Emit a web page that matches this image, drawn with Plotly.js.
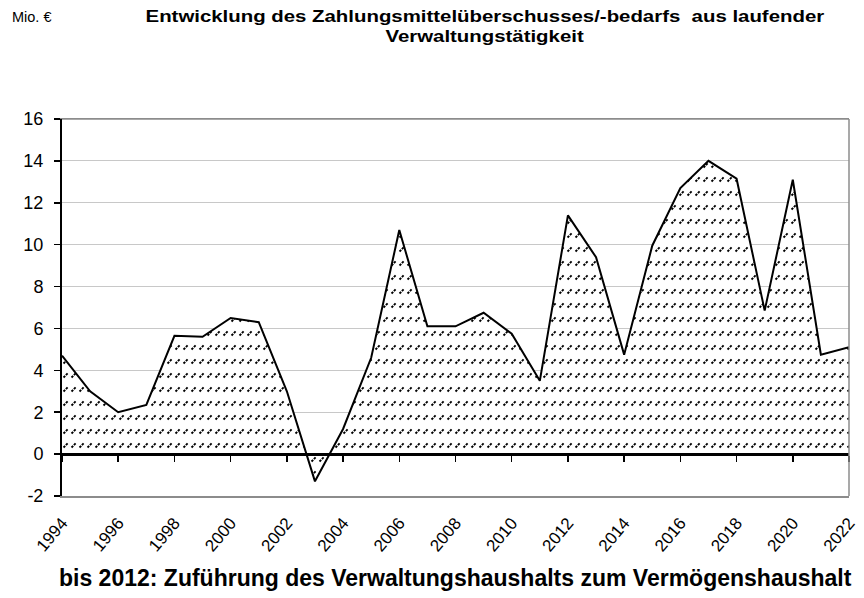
<!DOCTYPE html>
<html><head><meta charset="utf-8">
<script src="https://cdn.plot.ly/plotly-3.0.1.min.js"></script>
<style>html,body{margin:0;padding:0;background:#fff}#chart{width:864px;height:598px}</style>
</head><body><div id="chart"></div>
<script>
const years = [1994,1995,1996,1997,1998,1999,2000,2001,2002,2003,2004,2005,2006,2007,2008,2009,2010,2011,2012,2013,2014,2015,2016,2017,2018,2019,2020,2021,2022];
const values = [4.7,3.0,2.0,2.35,5.65,5.6,6.5,6.3,3.0,-1.3,1.2,4.6,10.7,6.1,6.1,6.75,5.75,3.5,11.4,9.4,4.75,9.95,12.7,14.0,13.15,6.85,13.1,4.75,5.1];
const xTicks = [1994,1996,1998,2000,2002,2004,2006,2008,2010,2012,2014,2016,2018,2020,2022];
const yTicks = [-2,0,2,4,6,8,10,12,14,16];
const titleLine1 = "<b>Entwicklung des Zahlungsmittelüberschusses/-bedarfs  aus laufender</b>";
const titleLine2 = "<b>Verwaltungstätigkeit</b>";
const unitText = "Mio. €";
const footText = "<b>bis 2012: Zuführung des Verwaltungshaushalts zum Vermögenshaushalt</b>";

const font = "Liberation Sans, Arial, sans-serif";
const trace = {
  x: years, y: values, type: 'scatter', mode: 'lines',
  line: {color: '#000', width: 2},
  fill: 'tozeroy', fillcolor: 'white',
  fillpattern: {shape: '/', bgcolor: 'white', fgcolor: '#222', size: 8, solidity: 0.2},
  hoverinfo: 'skip', showlegend: false
};
const layout = {
  width: 864, height: 598,
  margin: {l: 62, r: 15, t: 119, b: 102},
  paper_bgcolor: '#fff', plot_bgcolor: '#fff',
  font: {family: font, color: '#000', size: 15},
  xaxis: {
    range: [1994, 2022], tickvals: xTicks, ticktext: xTicks.map(String),
    tickangle: -50, showgrid: false, zeroline: false,
    showline: true, linecolor: '#8c8c8c', linewidth: 1.5, mirror: true,
    ticks: '', ticklabelstandoff: 9, tickfont: {size: 17, family: font}
  },
  xaxis2: {
    overlaying: 'x', anchor: 'free', position: 2/18, range: [1994, 2022],
    tickvals: xTicks, showticklabels: false, ticks: 'outside', ticklen: 6, tickwidth: 1.5,
    tickcolor: '#000', showline: true, linecolor: '#000', linewidth: 2.5, showgrid: false, zeroline: false
  },
  yaxis: {
    range: [-2, 16], tickvals: yTicks, ticktext: yTicks.map(String),
    showgrid: true, gridcolor: '#c8c8c8', gridwidth: 1,
    zeroline: false, showline: true, linecolor: '#000', linewidth: 2,
    ticks: 'outside', ticklen: 6, tickcolor: '#000', tickwidth: 1.5,
    ticklabelstandoff: 7, tickfont: {size: 18, family: font}
  },
  shapes: [
    {type: 'line', xref: 'paper', yref: 'paper', x0: 0, x1: 1, y0: 1, y1: 1, line: {color: '#8c8c8c', width: 1.5}},
    {type: 'line', xref: 'paper', yref: 'paper', x0: 1, x1: 1, y0: 0, y1: 1, line: {color: '#8c8c8c', width: 1.5}}
  ],
  annotations: [
    {text: titleLine1, xref: 'paper', yref: 'paper', x: 0.537, y: 1, yshift: 119 - 16, xanchor: 'center', yanchor: 'middle',
     showarrow: false, font: {size: 17, family: font}},
    {text: titleLine2, xref: 'paper', yref: 'paper', x: 0.537, y: 1, yshift: 119 - 36, xanchor: 'center', yanchor: 'middle',
     showarrow: false, font: {size: 17, family: font}},
    {text: unitText, xref: 'paper', yref: 'paper', x: -0.066, y: 1, yshift: 119 - 17, xanchor: 'left', yanchor: 'middle',
     showarrow: false, font: {size: 14.5, family: font}},
    {text: footText, xref: 'paper', yref: 'paper', x: 0.5, y: 0, yshift: -82, xanchor: 'center', yanchor: 'middle',
     showarrow: false, font: {size: 23, family: font}}
  ]
};
const trace2 = {x: [1994, 2022], y: [0, 0], xaxis: 'x2', type: 'scatter', mode: 'lines',
  line: {color: 'rgba(0,0,0,0)', width: 0}, hoverinfo: 'skip', showlegend: false};
Plotly.newPlot('chart', [trace, trace2], layout, {staticPlot: true}).then(function () {
  // reference title is set horizontally stretched
  document.querySelectorAll('.annotation-text').forEach(function (t) {
    if (t.textContent.indexOf('Entwicklung') === 0 || t.textContent.indexOf('Verwaltungst') === 0) {
      t.style.transformBox = 'fill-box';
      t.style.transformOrigin = 'center';
      t.style.transform = 'scaleX(1.2)';
    }
  });
  // hatch texture: rows of small slashes
  const NS = 'http://www.w3.org/2000/svg';
  document.querySelectorAll('pattern').forEach(function (p) {
    p.setAttribute('width', '8');
    p.setAttribute('height', '14');
    while (p.firstChild) p.removeChild(p.firstChild);
    const r = document.createElementNS(NS, 'rect');
    r.setAttribute('width', '8'); r.setAttribute('height', '14'); r.setAttribute('fill', '#fff');
    p.appendChild(r);
    const path = document.createElementNS(NS, 'path');
    path.setAttribute('d', 'M1.5,6.5 L6,2');
    path.setAttribute('stroke', '#000'); path.setAttribute('stroke-width', '1.9'); path.setAttribute('fill', 'none');
    path.setAttribute('stroke-dasharray', '2.4,1');
    p.appendChild(path);
  });
});
</script></body></html>
